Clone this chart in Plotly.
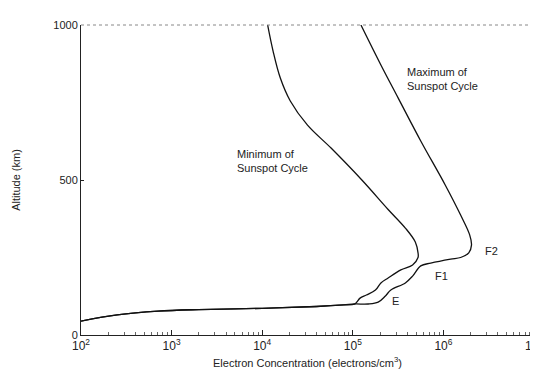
import plotly.graph_objects as go

# Shared E-region base (log10 electron concentration, altitude km)
base_log = [2.00, 2.40, 2.85, 3.30, 4.00, 4.60, 4.90, 5.02]
base_alt = [45, 65, 77, 82, 86, 92, 97, 100]

# Minimum of sunspot cycle (above the branch point)
min_log = [5.08, 5.15, 5.25, 5.31, 5.39, 5.53, 5.66, 5.72, 5.72, 5.69, 5.58, 5.39, 5.10, 4.76, 4.50, 4.31, 4.20, 4.12, 4.06]
min_alt = [119, 129, 145, 168, 184, 210, 226, 250, 265, 300, 345, 405, 500, 603, 677, 755, 829, 916, 1000]

# Maximum of sunspot cycle (above the branch point)
max_log = [5.17, 5.28, 5.36, 5.42, 5.58, 5.66, 5.75, 5.86, 6.08, 6.19, 6.28, 6.31, 6.29, 6.19, 6.02, 5.75, 5.50, 5.31, 5.09]
max_alt = [100, 106, 126, 145, 168, 190, 223, 232, 245, 250, 265, 290, 323, 387, 484, 626, 765, 871, 1000]

tick_vals = [1e2, 1e3, 1e4, 1e5, 1e6, 1e7]
tick_text = ["10<sup>2</sup>", "10<sup>3</sup>", "10<sup>4</sup>", "10<sup>5</sup>", "10<sup>6</sup>", "10<sup>7</sup>"]
y_ticks = [0, 500, 1000]
minor_vals = [m * 10 ** k for k in range(2, 7) for m in range(2, 10)]

fig = go.Figure()
line = dict(color="#111111", width=1.3, shape="spline", smoothing=1.0)
for lg, al in [(base_log + min_log, base_alt + min_alt), (base_log + max_log, base_alt + max_alt)]:
    fig.add_trace(go.Scatter(x=[10 ** v for v in lg], y=al, mode="lines", line=line,
                             showlegend=False, hoverinfo="skip"))

font = dict(family="Liberation Sans, Arial, sans-serif", size=11, color="#222222")
tfont = dict(family="Liberation Sans, Arial, sans-serif", size=12, color="#222222")
fig.add_annotation(x=3.70, y=560, text="Minimum of<br>Sunspot Cycle", showarrow=False,
                   xanchor="left", yanchor="middle", align="left", font=font)
fig.add_annotation(x=5.58, y=826, text="Maximum of<br>Sunspot Cycle", showarrow=False,
                   xanchor="left", yanchor="middle", align="left", font=font)
fig.add_annotation(x=5.41, y=110, text="E", showarrow=False, xanchor="left", font=font)
fig.add_annotation(x=5.88, y=190, text="F1", showarrow=False, xanchor="left", font=font)
fig.add_annotation(x=6.44, y=271, text="F2", showarrow=False, xanchor="left", font=font)

# faint top and right frame
fig.add_shape(type="line", xref="paper", yref="paper", x0=0, x1=1, y0=1, y1=1,
              line=dict(color="#888888", width=1, dash="dot"))
fig.add_shape(type="line", xref="paper", yref="paper", x0=1, x1=1, y0=0, y1=1,
              line=dict(color="#777777", width=1))

fig.update_xaxes(type="log", range=[2, 7], tickvals=tick_vals, ticktext=tick_text, automargin=False,
                 showline=True, linecolor="#222222", linewidth=1, showgrid=False, zeroline=False,
                 ticks="inside", ticklen=5, tickcolor="#222222",
                 minor=dict(ticks="inside", ticklen=3, tickcolor="#666666", tickvals=minor_vals, showgrid=False),
                 tickfont=tfont,
                 title=dict(text="Electron Concentration (electrons/cm<sup>3</sup>)", font=font, standoff=6))
fig.update_yaxes(range=[0, 1000], tickvals=y_ticks, showline=True, linecolor="#222222", linewidth=1,
                 automargin=False,
                 showgrid=False, zeroline=False, ticks="inside", ticklen=3, tickcolor="#222222",
                 tickfont=font, title=dict(text="Altitude (km)", font=font, standoff=30))

fig.update_layout(width=538, height=378, margin=dict(l=73, r=12, t=17, b=51),
                  plot_bgcolor="white", paper_bgcolor="white")
fig.write_html("out.html")
